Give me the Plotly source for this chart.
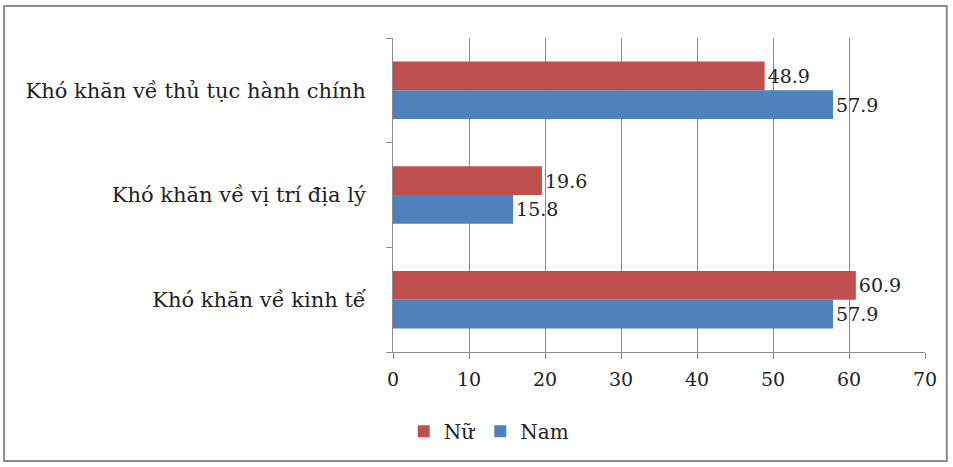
import plotly.graph_objects as go

categories = ["Khó khăn về kinh tế", "Khó khăn về vị trí địa lý", "Khó khăn về thủ tục hành chính"]
nu_values = [60.9, 19.6, 48.9]
nam_values = [57.9, 15.8, 57.9]
x_ticks = [0, 10, 20, 30, 40, 50, 60, 70]

RED = "#C0504D"
BLUE = "#4F81BD"
FONT = "DejaVu Serif"

fig = go.Figure()
fig.add_trace(go.Bar(
    y=categories, x=nam_values, name="Nam", orientation="h",
    marker=dict(color=BLUE, line=dict(width=0)),
    text=[f"{v:.1f}" for v in nam_values], textposition="outside",
    textfont=dict(family=FONT, size=19, color="#222"), cliponaxis=False,
))
fig.add_trace(go.Bar(
    y=categories, x=nu_values, name="Nữ", orientation="h",
    marker=dict(color=RED, line=dict(width=0)),
    text=[f"{v:.1f}" for v in nu_values], textposition="outside",
    textfont=dict(family=FONT, size=19, color="#222"), cliponaxis=False,
))

# frame around the whole chart
fig.add_shape(type="rect", xref="paper", yref="paper",
              x0=-0.731, x1=1.041, y0=-0.347, y1=1.102,
              line=dict(color="#8c8c8c", width=2), fillcolor="rgba(0,0,0,0)")

fig.update_layout(
    width=953, height=467,
    margin=dict(l=393, r=28, t=38, b=115),
    paper_bgcolor="white", plot_bgcolor="white",
    barmode="group", bargap=0.45, bargroupgap=0,
    font=dict(family=FONT, size=18, color="#222"),
    showlegend=True,
    legend=dict(orientation="h", x=0.18, y=-0.19, xanchor="center", yanchor="top",
                traceorder="reversed", font=dict(family=FONT, size=20, color="#222"),
                itemwidth=30),
)
fig.update_xaxes(range=[0, 70], tickvals=x_ticks, ticktext=[str(t) for t in x_ticks],
                 showgrid=True, gridcolor="#8a8a8a", gridwidth=1,
                 showline=True, linecolor="#8a8a8a", linewidth=1,
                 ticks="outside", ticklen=6, tickcolor="#8a8a8a",
                 tickfont=dict(family=FONT, size=19, color="#222"),
                 ticklabelstandoff=4,
                 zeroline=False, fixedrange=True)
fig.update_yaxes(categoryorder="array", categoryarray=categories,
                 showline=True, linecolor="#8a8a8a", linewidth=1,
                 ticks="outside", ticklen=6, tickcolor="#8a8a8a", tickson="boundaries",
                 tickfont=dict(family=FONT, size=21, color="#222"),
                 ticklabelstandoff=22, showgrid=False, fixedrange=True)

fig.write_html("out.html")
